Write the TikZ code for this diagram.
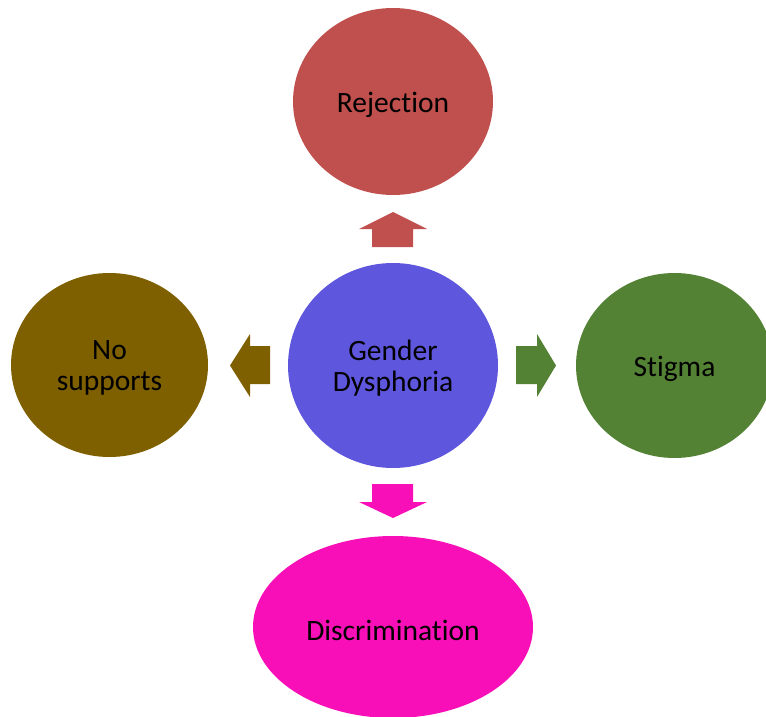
\documentclass[tikz,border=0pt]{standalone}
\usepackage{fontspec}
\setmainfont{Carlito}[Ligatures={NoCommon,NoRare,NoDiscretionary}]
\usetikzlibrary{shapes.geometric}
\definecolor{cred}{HTML}{C0504D}
\definecolor{cpurple}{HTML}{5E56DD}
\definecolor{cgreen}{HTML}{548235}
\definecolor{cbrown}{HTML}{7F6000}
\definecolor{cpink}{HTML}{F80FB7}
\tikzset{
  bubble/.style={ellipse, inner sep=0pt},
  txt/.style={inner sep=0pt, align=center, text=black,
    font=\fontsize{29.5}{31}\selectfont}
}
\begin{document}
\begin{tikzpicture}[x=1pt,y=-1pt]
\useasboundingbox (0,0) rectangle (766,717);
\clip (0,0) rectangle (766,717);
\node[bubble, fill=cpurple, minimum width=210pt, minimum height=205pt] (gd) at (393,365.5) {};
\node[bubble, fill=cred, minimum width=200pt, minimum height=187pt] (rej) at (393,101.5) {};
\node[bubble, fill=cbrown, minimum width=197pt, minimum height=184pt] (nos) at (109.5,365) {};
\node[bubble, fill=cgreen, minimum width=197pt, minimum height=185pt] (sti) at (674.5,365.5) {};
\node[bubble, fill=cpink, minimum width=280pt, minimum height=182pt] (dis) at (393,627) {};
\node[txt] (gdt) at ([yshift=-3pt]gd.center) {Gender\\Dysphoria};
\node[txt] (rejt) at ([yshift=-3pt]rej.center) {Rejection};
\node[txt] (nost) at ([yshift=-3pt]nos.center) {No\\supports};
\node[txt] (stit) at ([yshift=-3pt]sti.center) {Stigma};
\node[txt] (dist) at ([yshift=-3pt]dis.center) {Discrimination};
% block arrows
\fill[cred] (372,247) -- (372,229) -- (359,229) -- (393,212) -- (427,229) -- (413,229) -- (413,247) -- cycle;
\fill[cpink] (372,484) -- (372,502) -- (359,502) -- (393,518) -- (427,502) -- (413,502) -- (413,484) -- cycle;
\fill[cbrown] (270,346) -- (250,346) -- (250,334) -- (230,365.5) -- (250,397) -- (250,384) -- (270,384) -- cycle;
\fill[cgreen] (516,346) -- (537,346) -- (537,334) -- (556,365.5) -- (537,397) -- (537,384) -- (516,384) -- cycle;
\end{tikzpicture}
\end{document}
